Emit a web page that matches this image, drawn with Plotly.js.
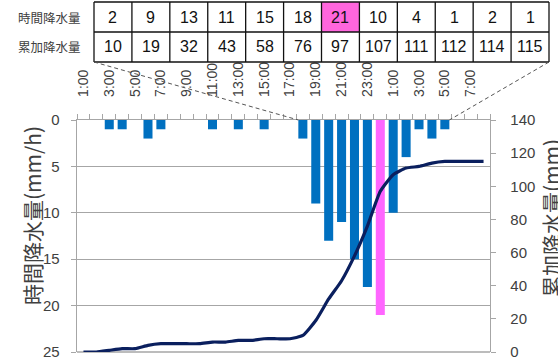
<!DOCTYPE html>
<html>
<head>
<meta charset="utf-8">
<script src="https://cdn.plot.ly/plotly-3.0.1.min.js"></script>
<style>
  html, body { margin: 0; padding: 0; background: #fff; }
  #chart { width: 558px; height: 358px; }
</style>
</head>
<body>
<div id="chart"></div>
<script>
// Hourly timeline, 1:00 through 8:00 of the following day
const hourLabels = [
  '1:00','2:00','3:00','4:00','5:00','6:00','7:00','8:00','9:00','10:00',
  '11:00','12:00','13:00','14:00','15:00','16:00','17:00','18:00','19:00','20:00',
  '21:00','22:00','23:00','0:00','1:00','2:00','3:00','4:00','5:00','6:00',
  '7:00','8:00'
];

// Hourly rainfall (mm/h)
const hourlyRain = [
  0, 0, 1, 1, 0, 2, 1, 0, 0, 0,
  1, 0, 1, 0, 1, 0, 0, 2, 9, 13,
  11, 15, 18, 21, 10, 4, 1, 2, 1, 0,
  0, 0
];

// Accumulated rainfall (mm)
const totalRain = [
  0, 0, 1, 2, 2, 4, 5, 5, 5, 5,
  6, 6, 7, 7, 8, 8, 8, 10, 19, 32,
  43, 58, 76, 97, 107, 111, 112, 114, 115, 115,
  115, 115
];

// Span of hours listed in the summary table, and the peak hour
const tableStart = 17;
const tableEnd = 28;
const peakIndex = 23;

const rowLabels = ['時間降水量', '累加降水量'];
const leftTitle = '時間降水量(mm/h)';
const rightTitle = '累加降水量(mm)';

// ---- geometry helpers (pixels -> paper coordinates) ----
const W = 558, H = 358;
const M = { l: 77, r: 68, t: 120, b: 6 };
const plotW = W - M.l - M.r, plotH = H - M.t - M.b;
const px = x => (x - M.l) / plotW;
const py = y => (H - M.b - y) / plotH;
const n = hourLabels.length;
const catToPaper = c => (c + 0.5) / n;

const idx = hourLabels.map((_, i) => i);
const barColors = idx.map(i => i === peakIndex ? '#ff66ff' : '#0070c0');

const txtColor = '#404040';
const gridColor = '#a6a6a6';
const fontFam = '"Liberation Sans", "Noto Sans CJK JP", sans-serif';
const cjkFam = '"Noto Sans CJK JP", sans-serif';

const traces = [
  {
    type: 'bar',
    x: idx,
    y: hourlyRain,
    width: 0.7,
    marker: { color: barColors, line: { width: 0 } },
    xaxis: 'x', yaxis: 'y',
    hoverinfo: 'skip'
  },
  {
    type: 'scatter',
    mode: 'lines',
    x: idx,
    y: totalRain,
    line: { color: '#0a1f5e', width: 3.2, shape: 'spline', smoothing: 0.5 },
    xaxis: 'x', yaxis: 'y2',
    hoverinfo: 'skip'
  }
];

// ---- summary table drawn above the plot ----
const tblLeft = 94, tblRight = 549, tblTop = 2, tblMid = 32, tblBot = 62;
const nCols = tableEnd - tableStart + 1;
const colW = (tblRight - tblLeft) / nCols;
const shapes = [];
const annotations = [];

// peak cell highlight
const peakCol = peakIndex - tableStart;
shapes.push({
  type: 'rect', xref: 'paper', yref: 'paper', layer: 'below',
  x0: px(tblLeft + peakCol * colW), x1: px(tblLeft + (peakCol + 1) * colW),
  y0: py(tblMid), y1: py(tblTop),
  fillcolor: '#ff66dd', line: { width: 0 }
});

// horizontal rules
[tblTop, tblMid, tblBot].forEach(yy => {
  shapes.push({
    type: 'line', xref: 'paper', yref: 'paper',
    x0: px(tblLeft), x1: px(tblRight), y0: py(yy), y1: py(yy),
    line: { color: '#111', width: 1.3 }
  });
});
// vertical rules
for (let c = 0; c <= nCols; c++) {
  const xx = tblLeft + c * colW;
  shapes.push({
    type: 'line', xref: 'paper', yref: 'paper',
    x0: px(xx), x1: px(xx), y0: py(tblTop), y1: py(tblBot),
    line: { color: '#111', width: 1.3 }
  });
}

// bottom grid rule at 25 mm/h
shapes.push({
  type: 'line', xref: 'paper', yref: 'paper', layer: 'below',
  x0: 0, x1: 1, y0: 0, y1: 0,
  line: { color: gridColor, width: 1.3 }
});

// table cell values
const cellFont = { family: '"Liberation Sans Narrow", "Liberation Sans", sans-serif', size: 16, color: '#111' };
for (let c = 0; c < nCols; c++) {
  const i = tableStart + c;
  const cx = px(tblLeft + (c + 0.5) * colW);
  annotations.push({
    xref: 'paper', yref: 'paper', x: cx, y: py((tblTop + tblMid) / 2),
    text: String(hourlyRain[i]), showarrow: false, font: cellFont,
    xanchor: 'center', yanchor: 'middle'
  });
  annotations.push({
    xref: 'paper', yref: 'paper', x: cx, y: py((tblMid + tblBot) / 2),
    text: String(totalRain[i]), showarrow: false, font: cellFont,
    xanchor: 'center', yanchor: 'middle'
  });
}

// row headings
rowLabels.forEach((lab, r) => {
  annotations.push({
    xref: 'paper', yref: 'paper', x: px(49),
    y: py(r === 0 ? (tblTop + tblMid) / 2 : (tblMid + tblBot) / 2),
    text: lab, showarrow: false,
    font: { family: cjkFam, size: 12.5, color: txtColor },
    xanchor: 'center', yanchor: 'middle'
  });
});

// axis titles, set vertically beside each axis
annotations.push({
  xref: 'paper', yref: 'paper', x: px(32), y: py(216),
  text: leftTitle, textangle: -90, showarrow: false,
  font: { family: cjkFam, size: 21, color: txtColor },
  xanchor: 'center', yanchor: 'middle'
});
annotations.push({
  xref: 'paper', yref: 'paper', x: px(551), y: py(218),
  text: rightTitle, textangle: -90, showarrow: false,
  font: { family: cjkFam, size: 21, color: txtColor },
  xanchor: 'center', yanchor: 'middle'
});

// dashed leaders from the table to the hours it covers
shapes.push({
  type: 'line', xref: 'paper', yref: 'paper',
  x0: px(tblLeft), y0: py(tblBot),
  x1: catToPaper(tableStart - 0.35), y1: 1,
  line: { color: '#555', width: 1, dash: '4px,3px' }
});
shapes.push({
  type: 'line', xref: 'paper', yref: 'paper',
  x0: px(tblRight), y0: py(tblBot),
  x1: catToPaper(tableEnd + 0.35), y1: 1,
  line: { color: '#555', width: 1, dash: '4px,3px' }
});

const layout = {
  width: W, height: H,
  margin: M,
  paper_bgcolor: '#fff', plot_bgcolor: '#fff',
  showlegend: false,
  font: { family: fontFam, color: txtColor },
  xaxis: {
    side: 'top',
    range: [-0.5, n - 0.5],
    tickmode: 'array',
    tickvals: idx.filter(i => i % 2 === 0),
    ticktext: hourLabels.filter((_, i) => i % 2 === 0),
    tickangle: -90,
    ticks: '',
    ticklabelstandoff: 19,
    tickfont: { size: 14, color: txtColor },
    minor: { tick0: -0.5, dtick: 1, ticks: 'outside', ticklen: 5, tickcolor: gridColor, showgrid: false },
    showline: true, linecolor: gridColor, linewidth: 1.3,
    showgrid: false, zeroline: false, fixedrange: true
  },
  yaxis: {
    range: [25, 0],
    dtick: 5,
    tick0: 0,
    ticks: 'outside', ticklen: 5, tickcolor: gridColor,
    ticklabelstandoff: 8,
    ticklabeloverflow: 'allow',
    tickfont: { size: 15, color: txtColor },
    showline: true, linecolor: gridColor, linewidth: 1.3,
    showgrid: true, gridcolor: gridColor, gridwidth: 1.3,
    zeroline: false
  },
  yaxis2: {
    overlaying: 'y', side: 'right', anchor: 'x',
    range: [0, 140],
    dtick: 20,
    ticks: 'outside', ticklen: 5, tickcolor: gridColor,
    ticklabelstandoff: 11,
    ticklabeloverflow: 'allow',
    tickfont: { size: 15, color: txtColor },
    showline: true, linecolor: gridColor, linewidth: 1.3,
    showgrid: false, zeroline: false
  },
  shapes: shapes,
  annotations: annotations
};

Plotly.newPlot('chart', traces, layout, { staticPlot: true, displayModeBar: false });
</script>
</body>
</html>
